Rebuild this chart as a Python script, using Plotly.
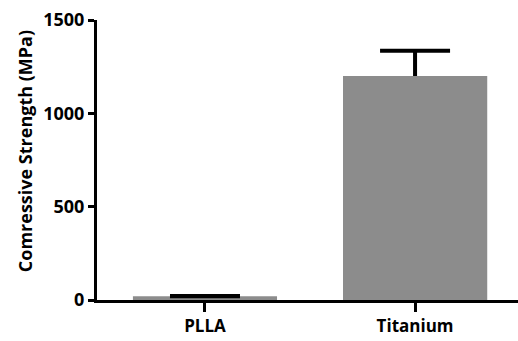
import plotly.graph_objects as go

categories = ["PLLA", "Titanium"]
values = [20, 1200]
errors = [1, 135]
y_ticks = [0, 500, 1000, 1500]
y_title = "Comressive Strength (MPa)"

xs = list(range(len(categories)))
bar_w = 0.686
gray = "#8c8c8c"

fig = go.Figure()
# bars carrying the error bars (lower cap hidden by the overlay bar below)
fig.add_trace(go.Bar(
    x=xs, y=values, width=bar_w,
    marker=dict(color=gray, line=dict(width=0)),
    error_y=dict(type="data", symmetric=False, array=errors, arrayminus=[0, 20],
                 color="black", thickness=4, width=35),
))
fig.add_trace(go.Bar(
    x=xs[1:], y=values[1:], width=bar_w,
    marker=dict(color=gray, line=dict(width=0)),
))
fig.add_annotation(
    text=y_title, textangle=-90, xref="paper", yref="paper",
    x=-0.172, y=0.53, xanchor="center", yanchor="middle", showarrow=False,
    font=dict(size=18, family="Open Sans", weight="bold", color="black"),
)
fig.update_layout(
    width=518, height=341, margin=dict(l=97, r=0, t=20, b=41),
    barmode="overlay",
    plot_bgcolor="white", paper_bgcolor="white", showlegend=False,
    font=dict(family="Open Sans", color="black"),
    xaxis=dict(range=[-0.514, 1.49], tickvals=xs, ticktext=categories, automargin=False,
               showline=True, linecolor="black", linewidth=3, ticks="outside", ticklen=9,
               tickwidth=3, tickcolor="black", showgrid=False, zeroline=False,
               tickfont=dict(size=17, family="Open Sans", weight="bold")),
    yaxis=dict(range=[0, 1500], tickvals=y_ticks, showline=True, linecolor="black", linewidth=3,
               automargin=False,
               ticks="outside", ticklen=6, tickwidth=3, tickcolor="black", showgrid=False,
               zeroline=False, tickfont=dict(size=18, family="Open Sans", weight="bold")),
)
fig.write_html("out.html", config={"displayModeBar": False})
with open("out.html", encoding="utf-8") as f:
    html = f.read()
html = html.replace("<body>", '<body style="margin:0;padding:0;overflow:hidden">', 1)
with open("out.html", "w", encoding="utf-8") as f:
    f.write(html)
